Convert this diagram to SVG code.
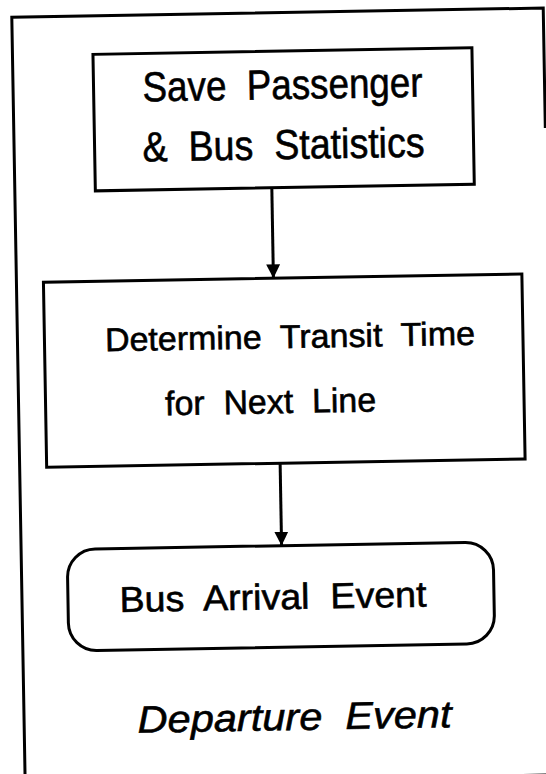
<svg xmlns="http://www.w3.org/2000/svg" width="546" height="774" viewBox="0 0 546 774">
  <style>
    .frame { fill: none; stroke: #000; stroke-width: 3; stroke-linecap: square; }
    .box { fill: #fff; stroke: #000; stroke-width: 3; }
    .edge { fill: none; stroke: #000; stroke-width: 3; }
    .label { font-family: "Liberation Sans", Arial, sans-serif; fill: #000; stroke: #000; stroke-width: 0.6; white-space: pre; }
    .title { font-family: "Liberation Sans", Arial, sans-serif; font-style: italic; fill: #000; stroke: #000; stroke-width: 0.6; white-space: pre; }
  </style>
  <defs>
    <marker id="arrow" markerUnits="userSpaceOnUse" markerWidth="16" markerHeight="16" refX="14" refY="7" orient="auto">
      <path d="M0,0 L14,7 L0,14 Z" fill="#000"/>
    </marker>
  </defs>
  <rect width="546" height="774" fill="#fff"/>
  <!-- whole sheet is drawn slightly askew -->
  <g transform="rotate(-1)">
    <!-- outer frame -->
    <g id="frame">
      <path class="frame" d="M543,136 L543,17.5 L11.5,17.5 L11.5,790"/>
      <line class="frame" x1="11.5" y1="784.5" x2="560" y2="784.5"/>
    </g>

    <!-- connectors -->
    <g id="connectors">
      <line class="edge" x1="268.5" y1="192.5" x2="268.5" y2="283" marker-end="url(#arrow)"/>
      <line class="edge" x1="272" y1="468" x2="272" y2="550.5" marker-end="url(#arrow)"/>
    </g>

    <g id="save-stats">
      <rect class="box" x="92" y="56" width="379" height="136.5"/>
      <text class="label" font-size="42" x="141" y="104" textLength="280" lengthAdjust="spacingAndGlyphs">Save  Passenger</text>
      <text class="label" font-size="42" x="140" y="164" textLength="282" lengthAdjust="spacingAndGlyphs">&amp;  Bus  Statistics</text>
    </g>

    <g id="transit-time">
      <rect class="box" x="38.5" y="283" width="478.5" height="185"/>
      <text class="label" font-size="33" x="99" y="353" textLength="370" lengthAdjust="spacingAndGlyphs">Determine  Transit  Time</text>
      <text class="label" font-size="34" x="158" y="418" textLength="211" lengthAdjust="spacingAndGlyphs">for  Next  Line</text>
    </g>

    <g id="bus-arrival">
      <rect class="box" x="57.5" y="550.5" width="426" height="101.5" rx="28" ry="28"/>
      <text class="label" font-size="36" x="109" y="614" textLength="307" lengthAdjust="spacingAndGlyphs">Bus  Arrival  Event</text>
    </g>

    <g id="caption">
      <text class="title" font-size="38" x="125" y="735" textLength="314" lengthAdjust="spacingAndGlyphs">Departure  Event</text>
    </g>
  </g>
</svg>
